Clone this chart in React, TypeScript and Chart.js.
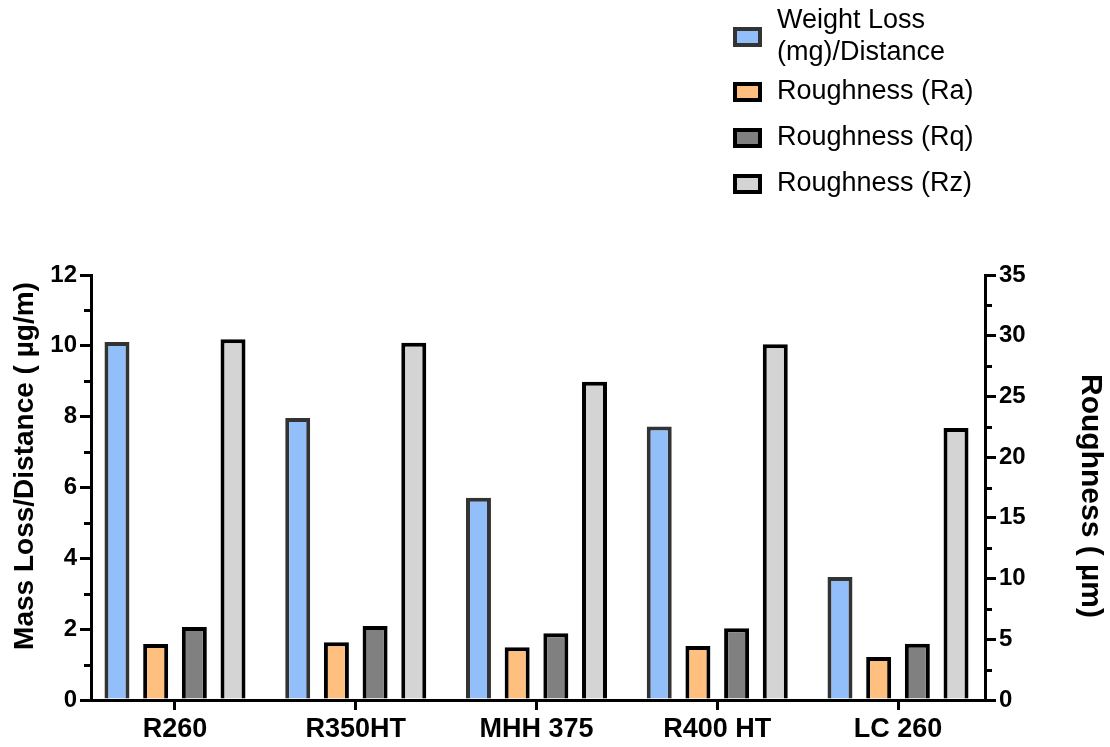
import React, { useEffect, useRef } from 'react';
import { Chart, registerables } from 'chart.js';

Chart.register(...registerables);

const categories = ['R260', 'R350HT', 'MHH 375', 'R400 HT', 'LC 260'];
const weightLoss = [10.11, 7.96, 5.71, 7.72, 3.47];
const roughRa = [4.61, 4.75, 4.34, 4.45, 3.54];
const roughRq = [6.01, 6.1, 5.49, 5.9, 4.64];
const roughRz = [29.7, 29.43, 26.2, 29.3, 22.4];

const leftMinorTicks = [1, 3, 5, 7, 9, 11];
const rightMinorTicks = [2.5, 7.5, 12.5, 17.5, 22.5, 27.5, 32.5];

const seriesLabels: (string | string[])[] = [
  ['Weight Loss', '(mg)/Distance'],
  'Roughness (Ra)',
  'Roughness (Rq)',
  'Roughness (Rz)',
];

const leftTitle = 'Mass Loss/Distance ( µg/m)';
const rightTitle = 'Roughness ( µm)';

const FONT = '"Liberation Sans", Arial, sans-serif';

// category axis range (index units) so groups sit where they do in the figure
const X_MIN = -0.4647;
const X_MAX = 4.4813;

const extrasPlugin = {
  id: 'extras',
  afterDraw(chart: any) {
    const ctx = chart.ctx as CanvasRenderingContext2D;
    const area = chart.chartArea;
    const y = chart.scales.y;
    const y1 = chart.scales.y1;
    ctx.save();
    ctx.strokeStyle = '#000';
    ctx.lineWidth = 3;
    leftMinorTicks.forEach((v) => {
      const p = Math.round(y.getPixelForValue(v)) + 0.5;
      ctx.beginPath();
      ctx.moveTo(area.left - 7, p);
      ctx.lineTo(area.left, p);
      ctx.stroke();
    });
    rightMinorTicks.forEach((v) => {
      const p = Math.round(y1.getPixelForValue(v)) + 0.5;
      ctx.beginPath();
      ctx.moveTo(area.right, p);
      ctx.lineTo(area.right + 7, p);
      ctx.stroke();
    });

    ctx.fillStyle = '#000';
    ctx.textAlign = 'center';
    ctx.textBaseline = 'middle';
    ctx.save();
    ctx.translate(25, 466);
    ctx.rotate(-Math.PI / 2);
    ctx.font = `bold 28px ${FONT}`;
    ctx.fillText(leftTitle, 0, 0);
    ctx.restore();
    ctx.save();
    ctx.translate(1090, 496);
    ctx.rotate(Math.PI / 2);
    ctx.font = `bold 30px ${FONT}`;
    ctx.fillText(rightTitle, 0, 0);
    ctx.restore();

    const rowCenters = [37, 92, 138, 184];
    ctx.font = `27px ${FONT}`;
    ctx.textAlign = 'left';
    chart.data.datasets.forEach((ds: any, i: number) => {
      const cy = rowCenters[i];
      const bw = 4;
      ctx.fillStyle = ds.borderColor;
      ctx.fillRect(733, cy - 10, 29, 20);
      ctx.fillStyle = ds.backgroundColor;
      ctx.fillRect(733 + bw, cy - 10 + bw, 29 - 2 * bw, 20 - 2 * bw);
      ctx.fillStyle = '#000';
      const lbl = seriesLabels[i];
      if (Array.isArray(lbl)) {
        const lh = 32;
        const start = cy - ((lbl.length - 1) * lh) / 2;
        lbl.forEach((t, k) => ctx.fillText(t, 777, start + k * lh));
      } else {
        ctx.fillText(lbl, 777, cy);
      }
    });
    ctx.restore();
  },
};

export default function App() {
  const ref = useRef<HTMLCanvasElement | null>(null);

  useEffect(() => {
    if (!ref.current) return;
    const barCommon = {
      borderWidth: 4,
      barPercentage: 0.646,
      categoryPercentage: 0.856,
    };
    const axisGrid = {
      drawOnChartArea: false,
      drawTicks: true,
      tickLength: 11,
      lineWidth: 3,
      tickWidth: 3,
      color: '#000',
      tickColor: '#000',
    };
    const chart = new Chart(ref.current, {
      type: 'bar',
      data: {
        labels: categories,
        datasets: [
          {
            label: 'Weight Loss (mg)/Distance',
            data: weightLoss,
            backgroundColor: '#92BEF9',
            borderColor: '#333333',
            yAxisID: 'y',
            ...barCommon,
          },
          {
            label: 'Roughness (Ra)',
            data: roughRa,
            backgroundColor: '#FFC07F',
            borderColor: '#000000',
            yAxisID: 'y1',
            ...barCommon,
          },
          {
            label: 'Roughness (Rq)',
            data: roughRq,
            backgroundColor: '#808080',
            borderColor: '#000000',
            yAxisID: 'y1',
            ...barCommon,
          },
          {
            label: 'Roughness (Rz)',
            data: roughRz,
            backgroundColor: '#D4D4D4',
            borderColor: '#000000',
            yAxisID: 'y1',
            ...barCommon,
          },
        ],
      },
      options: {
        responsive: false,
        animation: false,
        layout: { padding: { top: 275, left: 0, right: 0, bottom: 0 } },
        plugins: {
          legend: { display: false },
          tooltip: { enabled: false },
        },
        scales: {
          x: {
            offset: false,
            grid: { ...axisGrid, offset: false, tickLength: 10 },
            border: { display: true, color: '#000', width: 3 },
            ticks: {
              color: '#000',
              font: { family: FONT, size: 27, weight: 'bold' },
              padding: 3,
              maxRotation: 0,
              autoSkip: false,
            },
            afterDataLimits: (s: any) => {
              s.min = X_MIN;
              s.max = X_MAX;
            },
            afterBuildTicks: (s: any) => {
              s._startValue = X_MIN;
              s._valueRange = X_MAX - X_MIN;
              s.ticks = categories.map((_, i) => ({ value: i }));
            },
            afterFit: (s: any) => {
              s.height = 47;
            },
          },
          y: {
            position: 'left',
            min: 0,
            max: 12,
            ticks: {
              stepSize: 2,
              color: '#000',
              font: { family: FONT, size: 24, weight: 'bold' },
              padding: 3,
            },
            grid: axisGrid,
            border: { display: true, color: '#000', width: 3 },
            afterFit: (s: any) => {
              s.width = 91;
            },
          },
          y1: {
            position: 'right',
            min: 0,
            max: 35,
            ticks: {
              stepSize: 5,
              color: '#000',
              font: { family: FONT, size: 24, weight: 'bold' },
              padding: 3,
            },
            grid: axisGrid,
            border: { display: true, color: '#000', width: 3 },
            afterFit: (s: any) => {
              s.width = 125;
            },
          },
        },
      },
      plugins: [extrasPlugin],
    } as any);
    return () => chart.destroy();
  }, []);

  return (
    <div style={{ position: 'absolute', left: 0, top: 0, width: 1110, height: 747, background: '#fff' }}>
      <canvas ref={ref} width={1110} height={747} style={{ display: 'block' }} />
    </div>
  );
}
